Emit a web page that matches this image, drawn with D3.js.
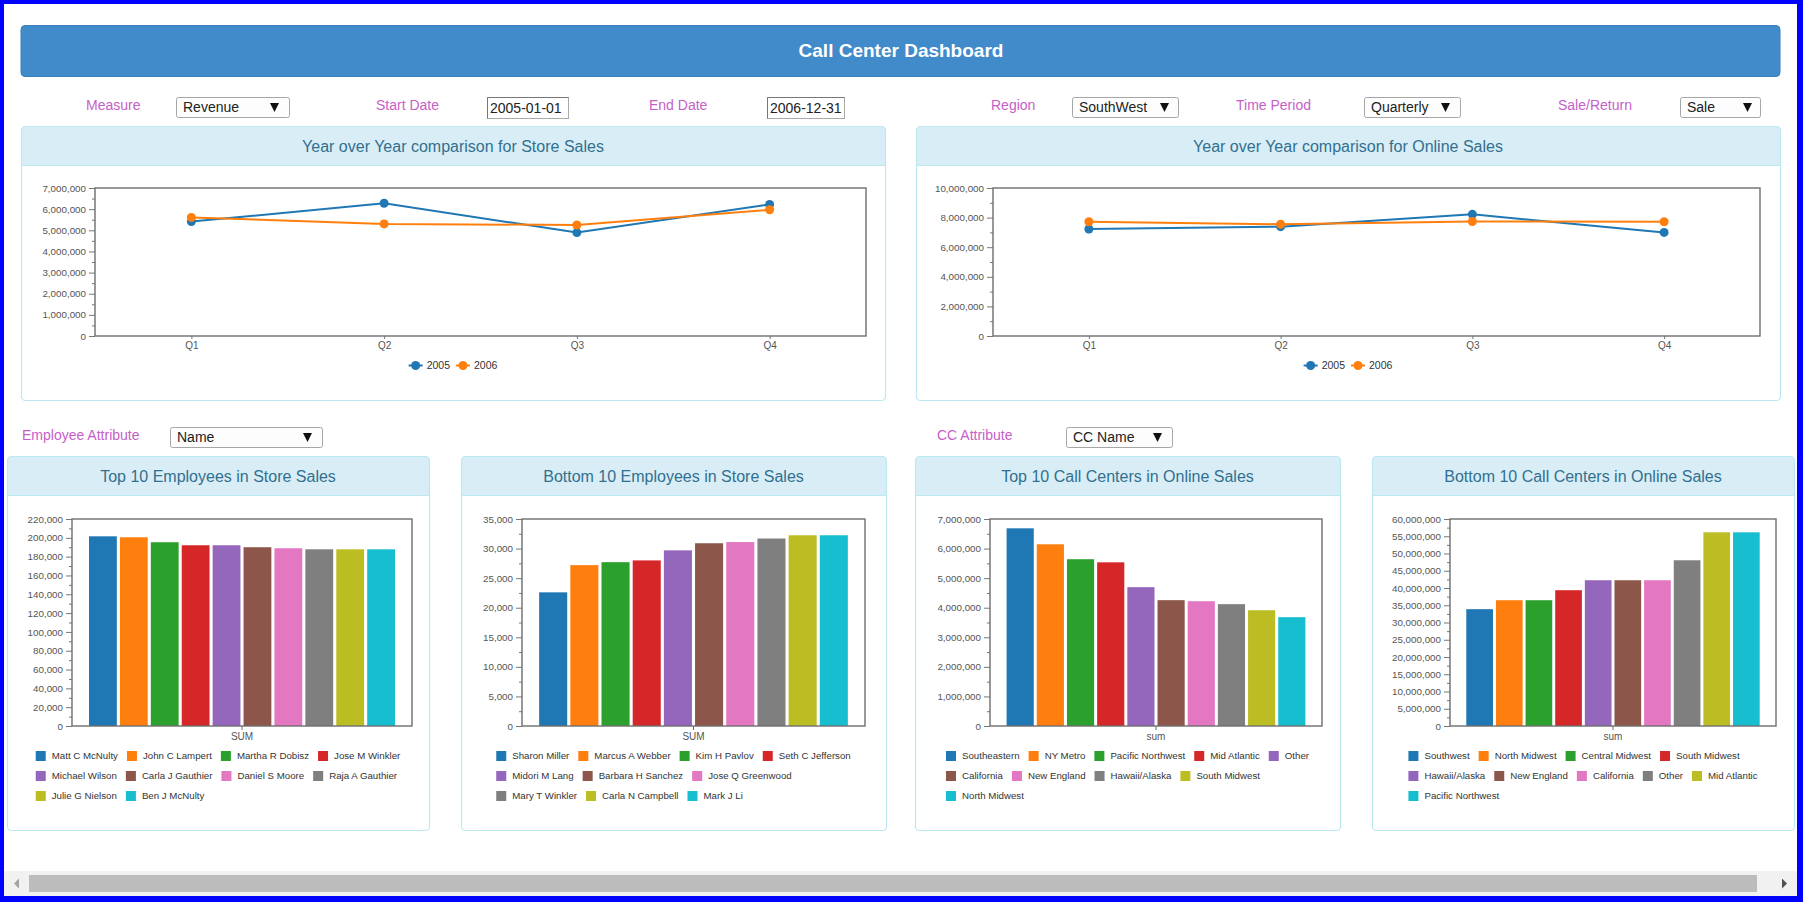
<!DOCTYPE html>
<html>
<head>
<meta charset="utf-8">
<script src="https://cdnjs.cloudflare.com/ajax/libs/d3/7.8.5/d3.min.js"></script>
<style>
body { margin: 0; background: #fff; overflow: hidden; }
svg { display: block; font-family: "Liberation Sans", Arial, Helvetica, sans-serif; }
</style>
</head>
<body>
<svg id="dash" width="1803" height="902"></svg>
<script>
var svg = d3.select('#dash');

// ---- data ----
var quarters = ['Q1', 'Q2', 'Q3', 'Q4'];
var years = ['2005', '2006'];
var store2005 = [5410000, 6280000, 4890000, 6220000];
var store2006 = [5610000, 5300000, 5250000, 5970000];
var online2005 = [7230000, 7390000, 8220000, 7000000];
var online2006 = [7720000, 7550000, 7740000, 7720000];

var topEmpNames = ['Matt C McNulty', 'John C Lampert', 'Martha R Dobisz', 'Jose M Winkler', 'Michael Wilson',
    'Carla J Gauthier', 'Daniel S Moore', 'Raja A Gauthier', 'Julie G Nielson', 'Ben J McNulty'];
var topEmpValues = [201600, 200600, 195300, 192100, 192100, 190000, 188900, 187800, 187800, 187800];

var bottomEmpNames = ['Sharon Miller', 'Marcus A Webber', 'Kim H Pavlov', 'Seth C Jefferson', 'Midori M Lang',
    'Barbara H Sanchez', 'Jose Q Greenwood', 'Mary T Winkler', 'Carla N Campbell', 'Mark J Li'];
var bottomEmpValues = [22600, 27200, 27700, 28000, 29700, 30900, 31100, 31700, 32250, 32250];

var topCcNames = ['Southeastern', 'NY Metro', 'Pacific Northwest', 'Mid Atlantic', 'Other',
    'California', 'New England', 'Hawaii/Alaska', 'South Midwest', 'North Midwest'];
var topCcValues = [6685000, 6145000, 5640000, 5535000, 4695000, 4255000, 4220000, 4120000, 3915000, 3680000];

var bottomCcNames = ['Southwest', 'North Midwest', 'Central Midwest', 'South Midwest', 'Hawaii/Alaska',
    'New England', 'California', 'Other', 'Mid Atlantic', 'Pacific Northwest'];
var bottomCcValues = [33860000, 36460000, 36460000, 39360000, 42250000, 42250000, 42250000, 48040000, 56140000, 56140000];

// axis ticks
var storeTicks = d3.range(0, 7000001, 1000000);
var onlineTicks = d3.range(0, 10000001, 2000000);
var topEmpTicks = d3.range(0, 220001, 20000);
var bottomEmpTicks = d3.range(0, 35001, 5000);
var topCcTicks = d3.range(0, 7000001, 1000000);
var bottomCcTicks = d3.range(0, 60000001, 5000000);

var colors = d3.schemeCategory10;
var fmt = d3.format(',');
var labelColor = '#c660c8';

// ---- header ----
svg.append('rect')
    .attr('x', 21).attr('y', 25.5).attr('width', 1759).attr('height', 51)
    .attr('rx', 4).attr('fill', '#428bca').attr('stroke', '#3b7fbd');
svg.append('text')
    .attr('x', 901).attr('y', 50).attr('dy', '0.35em')
    .attr('text-anchor', 'middle').attr('fill', '#fff')
    .attr('font-size', 19).attr('font-weight', 'bold')
    .text('Call Center Dashboard');

// ---- controls ----
function label(x, cy, t) {
    svg.append('text').attr('x', x).attr('y', cy).attr('dy', '0.35em')
        .attr('font-size', 14).attr('fill', labelColor).text(t);
}
function selectBox(x, y, w, t, ax) {
    svg.append('rect').attr('x', x + 0.5).attr('y', y + 0.5).attr('width', w).attr('height', 20)
        .attr('rx', 2).attr('fill', '#fdfdfd').attr('stroke', '#a6a6a6');
    svg.append('text').attr('x', x + 7).attr('y', y + 10.5).attr('dy', '0.35em')
        .attr('font-size', 14).attr('fill', '#222').text(t);
    svg.append('path')
        .attr('d', 'M' + ax + ',' + (y + 6) + 'h9l-4.5,9z')
        .attr('fill', '#111');
}
function inputBox(x, y, w, t) {
    svg.append('rect').attr('x', x + 0.5).attr('y', y + 0.5).attr('width', w).attr('height', 21)
        .attr('fill', '#fff').attr('stroke', '#a9a9a9');
    svg.append('path').attr('d', 'M' + (x + 0.5) + ',' + (y + 21.5) + 'V' + (y + 0.5) + 'H' + (x + w + 0.5))
        .attr('fill', 'none').attr('stroke', '#767676');
    svg.append('text').attr('x', x + 3).attr('y', y + 11.5).attr('dy', '0.35em')
        .attr('font-size', 14).attr('fill', '#222').text(t);
}

label(86, 105.5, 'Measure');
selectBox(176, 97, 113, 'Revenue', 270);
label(376, 105.5, 'Start Date');
inputBox(487, 97, 81, '2005-01-01');
label(649, 105.5, 'End Date');
inputBox(767, 97, 77, '2006-12-31');
label(991, 105.5, 'Region');
selectBox(1072, 97, 106, 'SouthWest', 1160);
label(1236, 105.5, 'Time Period');
selectBox(1364, 97, 96, 'Quarterly', 1441);
label(1558, 105.5, 'Sale/Return');
selectBox(1680, 97, 80, 'Sale', 1743);

label(22, 435, 'Employee Attribute');
selectBox(170, 427, 152, 'Name', 303);
label(937, 435, 'CC Attribute');
selectBox(1066, 427, 106, 'CC Name', 1153);

// ---- panels ----
function panel(p, title) {
    var g = svg.append('g');
    g.append('rect').attr('x', p.x + 0.5).attr('y', p.y + 0.5).attr('width', p.w).attr('height', p.h)
        .attr('rx', 4).attr('fill', '#fff');
    g.append('rect').attr('x', p.x + 0.5).attr('y', p.y + 0.5).attr('width', p.w).attr('height', 39)
        .attr('rx', 4).attr('fill', '#d9edf7');
    g.append('rect').attr('x', p.x + 0.5).attr('y', p.y + 30).attr('width', p.w).attr('height', 9.5)
        .attr('fill', '#d9edf7');
    g.append('line').attr('x1', p.x).attr('x2', p.x + p.w).attr('y1', p.y + 39.5).attr('y2', p.y + 39.5)
        .attr('stroke', '#bce8f1');
    g.append('rect').attr('x', p.x + 0.5).attr('y', p.y + 0.5).attr('width', p.w).attr('height', p.h)
        .attr('rx', 4).attr('fill', 'none').attr('stroke', '#bce8f1').attr('stroke-width', 1.2);
    g.append('text').attr('x', p.x + p.w / 2).attr('y', p.y + 20).attr('dy', '0.35em')
        .attr('text-anchor', 'middle').attr('font-size', 16).attr('fill', '#31708f').text(title);
}

function yAxes(g, y, ticks, box) {
    var step = ticks[1] - ticks[0];
    var minor = ticks.slice(0, -1).map(function (d) { return d + step / 2; });
    var ax = g.append('g').attr('transform', 'translate(' + box.x + ',0)')
        .call(d3.axisLeft(y).tickValues(ticks).tickFormat(fmt).tickSize(6).tickPadding(3));
    var mx = g.append('g').attr('transform', 'translate(' + box.x + ',0)')
        .call(d3.axisLeft(y).tickValues(minor).tickFormat('').tickSize(3));
    [ax, mx].forEach(function (a) {
        a.select('.domain').remove();
        a.selectAll('line').attr('stroke', '#777');
        a.selectAll('text').attr('fill', '#555').attr('font-size', 9.8)
            .attr('font-family', '"Liberation Sans", Arial, sans-serif');
    });
}

function frame(g, box) {
    g.append('rect').attr('x', box.x).attr('y', box.y).attr('width', box.w).attr('height', box.h)
        .attr('fill', 'none').attr('stroke', '#6e6e6e').attr('stroke-width', 1.4);
}

function lineChart(p, title, box, ticks, series) {
    panel(p, title);
    var g = svg.append('g');
    var y = d3.scaleLinear().domain([ticks[0], ticks[ticks.length - 1]]).range([box.y + box.h, box.y]);
    var x = d3.scalePoint().domain(quarters).range([box.x, box.x + box.w]).padding(0.5);

    yAxes(g, y, ticks, box);
    var xa = g.append('g').attr('transform', 'translate(0,' + (box.y + box.h) + ')')
        .call(d3.axisBottom(x).tickSize(3).tickPadding(3));
    xa.select('.domain').remove();
    xa.selectAll('line').attr('stroke', '#777');
    xa.selectAll('text').attr('fill', '#555').attr('font-size', 10)
        .attr('font-family', '"Liberation Sans", Arial, sans-serif');
    frame(g, box);

    var line = d3.line().x(function (d, i) { return x(quarters[i]); }).y(function (d) { return y(d); });
    series.forEach(function (vals, k) {
        g.append('path').datum(vals).attr('d', line)
            .attr('fill', 'none').attr('stroke', colors[k]).attr('stroke-width', 2);
        g.selectAll('circle.s' + k).data(vals).enter().append('circle')
            .attr('class', 's' + k)
            .attr('cx', function (d, i) { return x(quarters[i]); })
            .attr('cy', function (d) { return y(d); })
            .attr('r', 4.5).attr('fill', colors[k]);
    });

    // legend
    var lg = g.append('g');
    var cx = 0;
    years.forEach(function (yr, k) {
        var it = lg.append('g').attr('transform', 'translate(' + cx + ',0)');
        it.append('line').attr('x1', 0).attr('x2', 14).attr('y1', 0).attr('y2', 0)
            .attr('stroke', colors[k]).attr('stroke-width', 2);
        it.append('circle').attr('cx', 7).attr('cy', 0).attr('r', 4.5).attr('fill', colors[k]);
        var t = it.append('text').attr('x', 18).attr('dy', '0.35em').attr('font-size', 10.5)
            .attr('fill', '#333').text(yr);
        cx += 18 + t.node().getComputedTextLength() + 6;
    });
    cx -= 6;
    lg.attr('transform', 'translate(' + (p.x + p.w / 2 - cx / 2) + ',' + (box.y + box.h + 29.5) + ')');
}

function barChart(p, title, box, ticks, names, values, xlabel) {
    panel(p, title);
    var g = svg.append('g');
    var y = d3.scaleLinear().domain([ticks[0], ticks[ticks.length - 1]]).range([box.y + box.h, box.y]);
    var x0 = d3.scaleBand().domain([xlabel]).range([box.x, box.x + box.w])
        .paddingInner(0.1).paddingOuter(0.05);
    var x1 = d3.scaleBand().domain(names).range([0, x0.bandwidth()]).paddingInner(0.1);

    yAxes(g, y, ticks, box);
    var xa = g.append('g').attr('transform', 'translate(0,' + (box.y + box.h) + ')')
        .call(d3.axisBottom(x0).tickSize(4).tickPadding(3));
    xa.select('.domain').remove();
    xa.selectAll('line').attr('stroke', '#666');
    xa.selectAll('text').attr('fill', '#555').attr('font-size', 10)
        .attr('font-family', '"Liberation Sans", Arial, sans-serif');

    g.selectAll('rect.bar').data(values).enter().append('rect')
        .attr('class', 'bar')
        .attr('x', function (d, i) { return x0(xlabel) + x1(names[i]); })
        .attr('width', x1.bandwidth())
        .attr('y', function (d) { return y(d); })
        .attr('height', function (d) { return y(0) - y(d); })
        .attr('fill', function (d, i) { return colors[i]; });
    frame(g, box);

    // flow legend
    var lg = g.append('g');
    var maxW = 380, gap = 9, rowH = 20;
    var row = 0, cx = 0, widest = 0;
    names.forEach(function (n, i) {
        var it = lg.append('g');
        it.append('rect').attr('x', 0).attr('y', -5).attr('width', 10).attr('height', 10).attr('fill', colors[i]);
        var t = it.append('text').attr('x', 16).attr('dy', '0.35em').attr('font-size', 9.7)
            .attr('fill', '#333').text(n);
        var w = 16 + t.node().getComputedTextLength();
        if (cx > 0 && cx + gap + w > maxW) { row++; cx = 0; }
        var ox = cx > 0 ? cx + gap : 0;
        it.attr('transform', 'translate(' + ox + ',' + (row * rowH) + ')');
        cx = ox + w;
        widest = Math.max(widest, cx);
    });
    lg.attr('transform', 'translate(' + (p.x + p.w / 2 - widest / 2) + ',' + (box.y + box.h + 30) + ')');
}

lineChart({ x: 21, y: 126, w: 864, h: 274 }, 'Year over Year comparison for Store Sales',
    { x: 95, y: 188, w: 771, h: 148 }, storeTicks, [store2005, store2006]);
lineChart({ x: 916, y: 126, w: 864, h: 274 }, 'Year over Year comparison for Online Sales',
    { x: 993, y: 188, w: 767, h: 148 }, onlineTicks, [online2005, online2006]);

barChart({ x: 7, y: 456, w: 422, h: 374 }, 'Top 10 Employees in Store Sales',
    { x: 72, y: 519, w: 340, h: 207 }, topEmpTicks, topEmpNames, topEmpValues, 'SUM');
barChart({ x: 461, y: 456, w: 425, h: 374 }, 'Bottom 10 Employees in Store Sales',
    { x: 522, y: 519, w: 343, h: 207 }, bottomEmpTicks, bottomEmpNames, bottomEmpValues, 'SUM');
barChart({ x: 915, y: 456, w: 425, h: 374 }, 'Top 10 Call Centers in Online Sales',
    { x: 990, y: 519, w: 332, h: 207 }, topCcTicks, topCcNames, topCcValues, 'sum');
barChart({ x: 1372, y: 456, w: 422, h: 374 }, 'Bottom 10 Call Centers in Online Sales',
    { x: 1450, y: 519, w: 326, h: 207 }, bottomCcTicks, bottomCcNames, bottomCcValues, 'sum');

// ---- scrollbar ----
svg.append('rect').attr('x', 4).attr('y', 871).attr('width', 1793).attr('height', 25).attr('fill', '#f1f1f1');
svg.append('rect').attr('x', 29).attr('y', 875).attr('width', 1728).attr('height', 17).attr('fill', '#bcbcbc');
svg.append('path').attr('d', 'M14,883.5l5,-5v10z').attr('fill', '#a3a3a3');
svg.append('path').attr('d', 'M1787,883.5l-5,-5v10z').attr('fill', '#505050');

// ---- window frame ----
svg.append('rect').attr('x', 0).attr('y', 0).attr('width', 1803).attr('height', 4).attr('fill', '#0000ff');
svg.append('rect').attr('x', 0).attr('y', 0).attr('width', 4).attr('height', 902).attr('fill', '#0000ff');
svg.append('rect').attr('x', 1797).attr('y', 0).attr('width', 6).attr('height', 902).attr('fill', '#0000ff');
svg.append('rect').attr('x', 0).attr('y', 896).attr('width', 1803).attr('height', 6).attr('fill', '#0000ff');
</script>
</body>
</html>
